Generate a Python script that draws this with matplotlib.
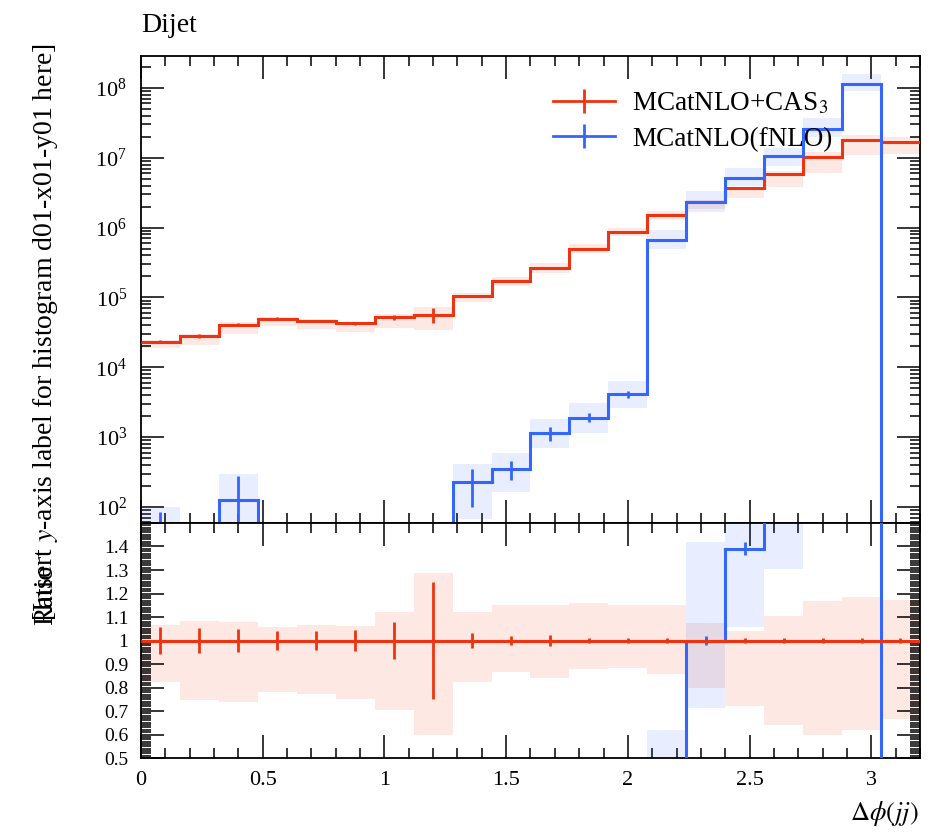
import numpy as np
import matplotlib
matplotlib.use('Agg')
from matplotlib import pyplot as plt
from matplotlib.lines import Line2D
from matplotlib.ticker import MultipleLocator, FuncFormatter, LogLocator, NullFormatter

plt.rcParams['font.family'] = ['Liberation Serif', 'DejaVu Serif']
plt.rcParams['mathtext.fontset'] = 'stix'

# binning in delta phi
bin_edges = [0.0, 0.16, 0.32, 0.48, 0.64, 0.80, 0.96, 1.12, 1.28, 1.44, 1.60,
             1.76, 1.92, 2.08, 2.24, 2.40, 2.56, 2.72, 2.88, 3.04, 3.20]

# MCatNLO+CAS3
red_vals = [2.33e4, 2.8e4, 4.07e4, 4.97e4, 4.58e4, 4.25e4, 5.23e4, 5.66e4, 1.04e5, 1.71e5,
            2.66e5, 4.97e5, 8.68e5, 1.5e6, 2.33e6, 3.69e6, 5.91e6, 1.02e7, 1.77e7, 1.69e7]
red_stat = [0.057, 0.053, 0.047, 0.04, 0.04, 0.045, 0.08, 0.25, 0.03, 0.02,
            0.024, 0.012, 0.01, 0.01, 0.01, 0.01, 0.01, 0.01, 0.01, 0.01]
red_band_hi = [1.066, 1.083, 1.080, 1.059, 1.066, 1.063, 1.12, 1.288, 1.12, 1.149,
               1.152, 1.159, 1.152, 1.149, 1.073, 1.04, 1.106, 1.169, 1.187, 1.173]
red_band_lo = [0.823, 0.748, 0.737, 0.782, 0.773, 0.751, 0.705, 0.60, 0.825, 0.866,
               0.84, 0.88, 0.883, 0.858, 0.80, 0.72, 0.64, 0.60, 0.62, 0.668]

# MCatNLO(fNLO)
blue_vals = [45, 0, 127, 0, 0, 0, 0, 0, 225, 349,
             1140, 1910, 4110, 6.59e5, 2.33e6, 5.13e6, 1.07e7, 2.6e7, 1.13e8, 0]
blue_stat = [0.9, 0, 1.2, 0, 0, 0, 0, 0, 0.55, 0.3,
             0.22, 0.15, 0.12, 0.03, 0.02, 0.02, 0.02, 0.02, 0.02, 0]
blue_band_hi = [2.2, 0, 2.33, 0, 0, 0, 0, 0, 1.83, 1.69,
                1.62, 1.6, 1.55, 1.41, 1.42, 1.38, 1.3, 1.42, 1.42, 0]
blue_band_lo = [0.3, 0, 0.3, 0, 0, 0, 0, 0, 0.3, 0.47,
                0.61, 0.61, 0.63, 0.74, 0.715, 0.76, 0.72, 0.77, 0.8, 0]

RED = '#EE3311'
BLUE = '#3366FF'

edges = np.array(bin_edges)
centres = 0.5 * (edges[1:] + edges[:-1])
widths = np.diff(edges)
red = np.array(red_vals)
blue = np.array(blue_vals)
floor = 1e-3

fig = plt.figure(figsize=(9.3, 8.32), dpi=100)
ax = fig.add_axes([0.1516, 0.3714, 0.8376, 0.5613])
rax = fig.add_axes([0.1516, 0.0889, 0.8376, 0.2825], sharex=ax)


def draw_hist(a, vals, stat, b_hi, b_lo, colour, z):
    vals = np.asarray(vals, dtype=float)
    hi = vals * np.array(b_hi)
    lo = vals * np.array(b_lo)
    a.bar(centres, np.maximum(hi - lo, 0), bottom=np.maximum(lo, floor), width=widths,
          color=colour, alpha=0.11, linewidth=0, zorder=z)
    a.stairs(np.maximum(vals, floor), edges, baseline=None, color=colour, lw=2.2, zorder=z + 2)
    s = np.array(stat)
    m = s > 0
    a.vlines(centres[m], np.maximum(vals[m] * (1 - s[m]), floor), vals[m] * (1 + s[m]),
             color=colour, lw=2, zorder=z + 2)


draw_hist(ax, red, red_stat, red_band_hi, red_band_lo, RED, 1)
draw_hist(ax, blue, blue_stat, blue_band_hi, blue_band_lo, BLUE, 2)

# ratio to MCatNLO+CAS3
draw_hist(rax, np.ones_like(red), red_stat, red_band_hi, red_band_lo, RED, 1)
draw_hist(rax, blue / red, blue_stat, blue_band_hi, blue_band_lo, BLUE, 2)
rax.stairs(np.ones_like(red), edges, baseline=None, color=RED, lw=2.2, zorder=5)

ax.set_yscale('log')
ax.set_ylim(59, 10 ** 8.457)
ax.set_xlim(0, 3.2)
rax.set_ylim(0.5, 1.5)

for a in (ax, rax):
    a.tick_params(which='both', direction='in', top=True, right=True, width=1.1)
    a.tick_params(which='major', length=16.5, labelsize=16)
    a.tick_params(which='minor', length=7.2)
    a.xaxis.set_major_locator(MultipleLocator(0.5))
    a.xaxis.set_minor_locator(MultipleLocator(0.1))
    for sp in a.spines.values():
        sp.set_linewidth(1.3)

ax.yaxis.set_major_locator(LogLocator(base=10, numticks=20))
ax.yaxis.set_minor_locator(LogLocator(base=10, subs=np.arange(2, 10), numticks=20))
ax.yaxis.set_minor_formatter(NullFormatter())
ax.tick_params(axis='x', labelbottom=False)
ax.tick_params(axis='y', pad=10)

rax.yaxis.set_major_locator(MultipleLocator(0.1))
rax.yaxis.set_minor_locator(MultipleLocator(0.01))
rax.yaxis.set_major_formatter(FuncFormatter(lambda v, p: '' if v > 1.45 else '%g' % round(v, 2)))
rax.xaxis.set_major_formatter(FuncFormatter(lambda v, p: '%g' % v))
rax.tick_params(axis='y', pad=9, labelsize=14)
rax.tick_params(axis='x', pad=9)

handles = [Line2D([], [], color=RED, lw=2, marker='|', markersize=17, mew=2),
           Line2D([], [], color=BLUE, lw=2, marker='|', markersize=17, mew=2)]
ax.legend(handles, ['MCatNLO+CAS$_3$', 'MCatNLO(fNLO)'], loc='upper left',
          bbox_to_anchor=(0.4975, 0.977), frameon=False, fontsize=19.5,
          handlelength=2.3, handletextpad=0.63, labelspacing=0.37)

fig.text(0.1516, 1 - 25 / 832, 'Dijet', fontsize=20, va='center', ha='left')
fig.text(0.049, 1 - 332 / 832, '[Insert $y$-axis label for histogram d01-x01-y01 here]',
         rotation=90, fontsize=20, va='center', ha='center')
fig.text(0.049, 1 - 595 / 832, 'Ratio', rotation=90, fontsize=20, va='center', ha='center')
fig.text(0.988, 1 - 814 / 832, r'$\Delta\phi(jj)$', fontsize=19, va='center', ha='right')

fig.savefig('out.png', dpi=100)
